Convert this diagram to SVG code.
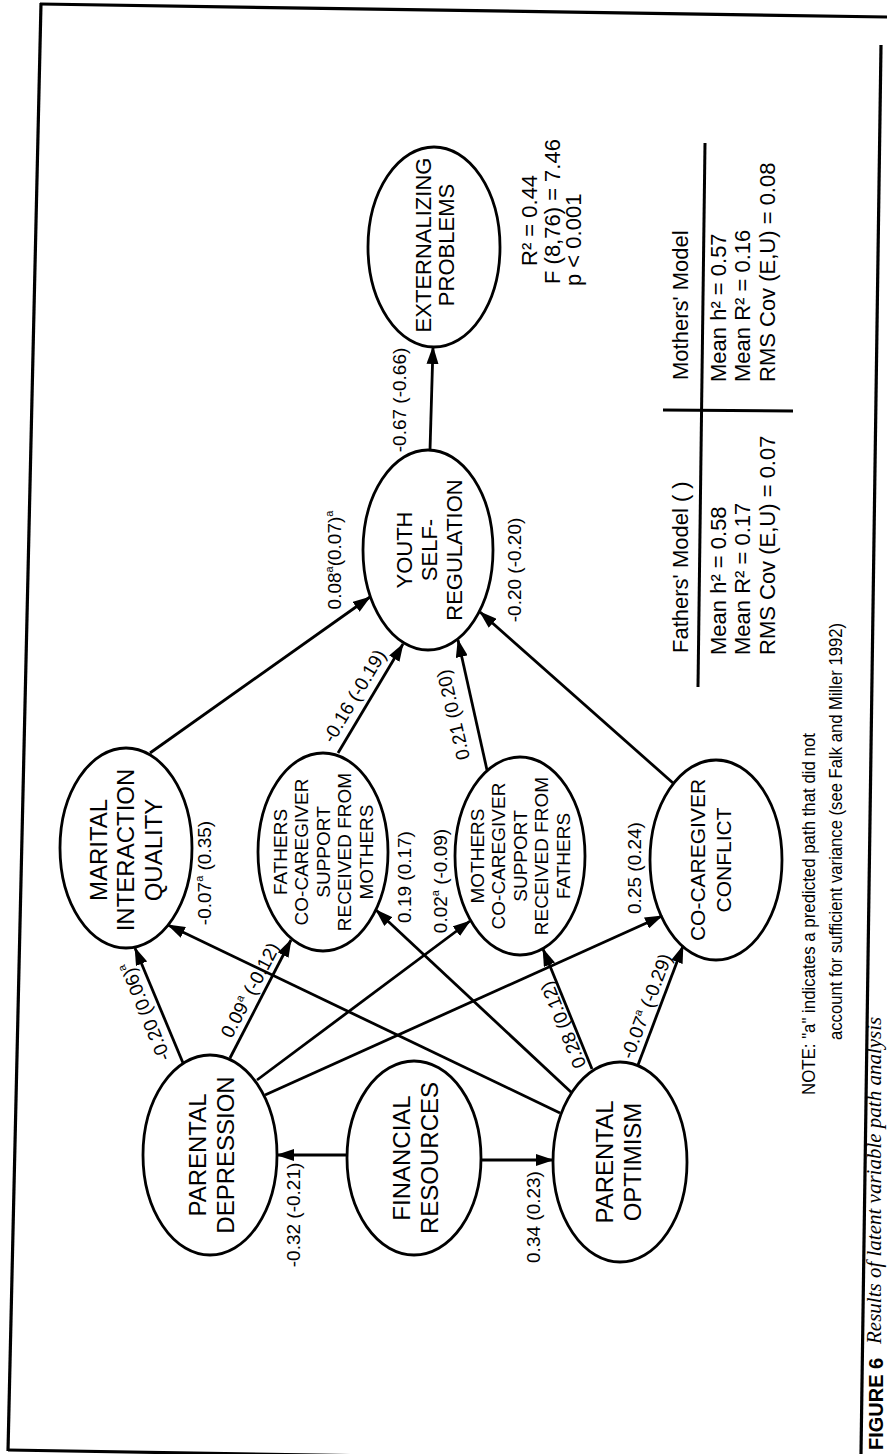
<svg xmlns="http://www.w3.org/2000/svg" width="887" height="1454" viewBox="0 0 887 1454">
<style>
text{font-family:"Liberation Sans",Arial,sans-serif;fill:#000}
.nd ellipse{fill:#fff;stroke:#000;stroke-width:2.8}
.f24{font-size:24px}.f22{font-size:22px}.f21{font-size:21px}.f19{font-size:19px}
.lbl{font-size:19px}
.edge{stroke:#000;stroke-width:2.8;fill:none;marker-end:url(#ah)}
.frame{stroke:#000;stroke-width:3.2;fill:none}
.rule{stroke:#000;stroke-width:3;fill:none}
.sup{font-size:11px}
</style>
<defs>
<marker id="ah" viewBox="0 0 18 12" refX="17" refY="6" markerWidth="18" markerHeight="12" markerUnits="userSpaceOnUse" orient="auto"><path d="M0,0 L18,6 L0,12 z" fill="#000"/></marker>
</defs>
<rect width="887" height="1454" fill="#fff"/>
<g id="frame">
<path class="frame" d="M40,4 L887,17"/>
<path class="frame" d="M41,3 L8,1451"/>
<path class="frame" d="M8,1450 L620,1460"/>
<path class="frame" d="M881,45 L861,1454"/>
</g>
<g id="n-externalizing" class="nd"><ellipse cx="434" cy="247" rx="66" ry="100"/>
<text class="f22" transform="translate(434,245) rotate(-90)" text-anchor="middle"><tspan x="0" y="-3.1">EXTERNALIZING</tspan><tspan x="0" y="19.9">PROBLEMS</tspan></text></g>
<g id="n-youth" class="nd"><ellipse cx="428" cy="550" rx="65" ry="100"/>
<text class="f22" transform="translate(428,550) rotate(-90)" text-anchor="middle"><tspan x="0" y="-16.1">YOUTH</tspan><tspan x="0" y="8.9">SELF-</tspan><tspan x="0" y="33.9">REGULATION</tspan></text></g>
<g id="n-marital" class="nd"><ellipse cx="126" cy="848" rx="66" ry="100"/>
<text class="f24" transform="translate(126,850) rotate(-90)" text-anchor="middle"><tspan x="0" y="-19.4">MARITAL</tspan><tspan x="0" y="7.6">INTERACTION</tspan><tspan x="0" y="35.6">QUALITY</tspan></text></g>
<g id="n-fathers" class="nd"><ellipse cx="323" cy="852" rx="65" ry="99"/>
<text class="f19" transform="translate(323,852) rotate(-90)" text-anchor="middle"><tspan x="0" y="-36.2">FATHERS</tspan><tspan x="0" y="-14.7">CO-CAREGIVER</tspan><tspan x="0" y="6.8">SUPPORT</tspan><tspan x="0" y="28.3">RECEIVED FROM</tspan><tspan x="0" y="49.8">MOTHERS</tspan></text></g>
<g id="n-mothers" class="nd"><ellipse cx="520" cy="856" rx="65" ry="99"/>
<text class="f19" transform="translate(520,856) rotate(-90)" text-anchor="middle"><tspan x="0" y="-36.2">MOTHERS</tspan><tspan x="0" y="-14.7">CO-CAREGIVER</tspan><tspan x="0" y="6.8">SUPPORT</tspan><tspan x="0" y="28.3">RECEIVED FROM</tspan><tspan x="0" y="49.8">FATHERS</tspan></text></g>
<g id="n-conflict" class="nd"><ellipse cx="716" cy="860" rx="66" ry="100"/>
<text class="f21" transform="translate(716,860) rotate(-90)" text-anchor="middle"><tspan x="0" y="-11.5">CO-CAREGIVER</tspan><tspan x="0" y="14.5">CONFLICT</tspan></text></g>
<g id="n-depression" class="nd"><ellipse cx="210" cy="1155" rx="67" ry="100"/>
<text class="f24" transform="translate(210,1155) rotate(-90)" text-anchor="middle"><tspan x="0" y="-4.4">PARENTAL</tspan><tspan x="0" y="23.6">DEPRESSION</tspan></text></g>
<g id="n-financial" class="nd"><ellipse cx="414" cy="1158" rx="67" ry="97"/>
<text class="f24" transform="translate(414,1158) rotate(-90)" text-anchor="middle"><tspan x="0" y="-4.4">FINANCIAL</tspan><tspan x="0" y="23.6">RESOURCES</tspan></text></g>
<g id="n-optimism" class="nd"><ellipse cx="620" cy="1162" rx="67" ry="100"/>
<text class="f24" transform="translate(620,1162) rotate(-90)" text-anchor="middle"><tspan x="0" y="-7.4">PARENTAL</tspan><tspan x="0" y="20.6">OPTIMISM</tspan></text></g>
<g id="connectors">
<path class="edge" d="M430,450 L433,347"/>
<path class="edge" d="M150,753 L370,597"/>
<path class="edge" d="M338,753 L403,644"/>
<path class="edge" d="M487,770 L458,640"/>
<path class="edge" d="M673,783 L480,612"/>
<path class="edge" d="M183,1063 L135,948"/>
<path class="edge" d="M230,1058 L291,940"/>
<path class="edge" d="M257,1080 L470,921"/>
<path class="edge" d="M265,1095 L662,916"/>
<path class="edge" d="M560,1113 L168,925"/>
<path class="edge" d="M572,1093 L376,910"/>
<path class="edge" d="M592,1069 L543,949"/>
<path class="edge" d="M638,1065 L683,946"/>
<path class="edge" d="M347,1155 L277,1155"/>
<path class="edge" d="M481,1160 L553,1160"/>
</g>
<g id="edge-labels" class="lbl">
<text class="lbl" transform="translate(399,400) rotate(-90)" text-anchor="middle" y="6.8">-0.67 (-0.66)</text>
<text class="lbl" transform="translate(334,560) rotate(-90)" text-anchor="middle" y="6.8">0.08<tspan class="sup" dy="-8">a</tspan><tspan dy="8">(0.07)</tspan><tspan class="sup" dy="-8">a</tspan></text>
<text class="lbl" transform="translate(354,696) rotate(-59)" text-anchor="middle" y="6.8">-0.16 (-0.19)</text>
<text class="lbl" transform="translate(453,715) rotate(-103)" text-anchor="middle" y="6.8">0.21 (0.20)</text>
<text class="lbl" transform="translate(514,570) rotate(-90)" text-anchor="middle" y="6.8">-0.20 (-0.20)</text>
<text class="lbl" transform="translate(145,1012) rotate(-112)" text-anchor="middle" y="6.8">-0.20 (0.06)<tspan class="sup" dy="-8">a</tspan></text>
<text class="lbl" transform="translate(250,990) rotate(-62)" text-anchor="middle" y="6.8">0.09<tspan class="sup" dy="-8">a</tspan><tspan dy="8"> (-0.12)</tspan></text>
<text class="lbl" transform="translate(204,873) rotate(-90)" text-anchor="middle" y="6.8">-0.07<tspan class="sup" dy="-8">a</tspan><tspan dy="8"> (0.35)</tspan></text>
<text class="lbl" transform="translate(404,877) rotate(-90)" text-anchor="middle" y="6.8">0.19 (0.17)</text>
<text class="lbl" transform="translate(440,881) rotate(-90)" text-anchor="middle" y="6.8">0.02<tspan class="sup" dy="-8">a</tspan><tspan dy="8"> (-0.09)</tspan></text>
<text class="lbl" transform="translate(634,868) rotate(-90)" text-anchor="middle" y="6.8">0.25 (0.24)</text>
<text class="lbl" transform="translate(563,1025) rotate(-112)" text-anchor="middle" y="6.8">0.28 (0.12)</text>
<text class="lbl" transform="translate(646,1006) rotate(-69)" text-anchor="middle" y="6.8">-0.07<tspan class="sup" dy="-8">a</tspan><tspan dy="8"> (-0.29)</tspan></text>
<text class="lbl" transform="translate(293,1215) rotate(-90)" text-anchor="middle" y="6.8">-0.32 (-0.21)</text>
<text class="lbl" transform="translate(533,1217) rotate(-90)" text-anchor="middle" y="6.8">0.34 (0.23)</text>
</g>
<g id="fit-stats" class="f22">
<text class="f22" transform="translate(537,266) rotate(-90)">R² = 0.44</text>
<text class="f22" transform="translate(560,284) rotate(-90)">F (8,76) = 7.46</text>
<text class="f22" transform="translate(581,286) rotate(-90)">p &lt; 0.001</text>
</g>
<g id="model-table">
<path class="rule" d="M663,410 L793,411"/>
<path class="rule" d="M705,143 L698,687"/>
<text class="f22" transform="translate(688,653) rotate(-90)">Fathers' Model ( )</text>
<text class="f22" transform="translate(688,380) rotate(-90)">Mothers' Model</text>
<text class="f22" transform="translate(726,655) rotate(-90)">Mean h² = 0.58</text>
<text class="f22" transform="translate(750,655) rotate(-90)">Mean R² = 0.17</text>
<text class="f22" transform="translate(775,655) rotate(-90)">RMS Cov (E,U) = 0.07</text>
<text class="f22" transform="translate(726,382) rotate(-90)">Mean h² = 0.57</text>
<text class="f22" transform="translate(750,382) rotate(-90)">Mean R² = 0.16</text>
<text class="f22" transform="translate(775,382) rotate(-90)">RMS Cov (E,U) = 0.08</text>
</g>
<g id="note">
<text style="font-size:19px" transform="translate(815,1095) rotate(-90)" textLength="362" lengthAdjust="spacingAndGlyphs">NOTE:  "a" indicates a predicted path that did not</text>
<text style="font-size:19px" transform="translate(842,1040) rotate(-90)" textLength="417" lengthAdjust="spacingAndGlyphs">account for sufficient variance (see Falk and Miller 1992)</text>
</g>
<g id="caption">
<text style="font-size:20px;font-weight:bold" transform="translate(883,1450) rotate(-90)">FIGURE 6</text>
<text style="font-size:21px;font-style:italic;font-family:'Liberation Serif',serif" transform="translate(881,1344) rotate(-90)">Results of latent variable path analysis</text>
</g>
</svg>
